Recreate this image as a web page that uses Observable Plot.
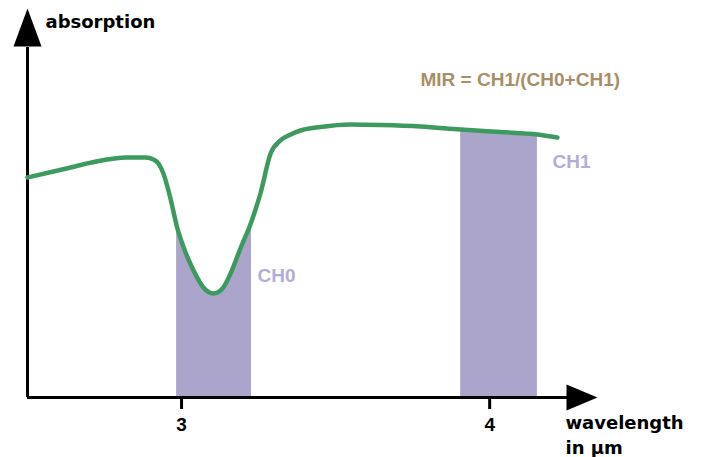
<!DOCTYPE html>
<html>
<head>
<meta charset="utf-8">
<script src="https://cdn.jsdelivr.net/npm/d3@7"></script>
<script src="https://cdn.jsdelivr.net/npm/@observablehq/plot@0.6"></script>
<style>
  html, body { margin: 0; padding: 0; background: #fff; }
  #chart { width: 702px; height: 457px; }
</style>
</head>
<body>
<div id="chart"></div>
<script>
// ---- data ----
const wavelength = [2.5, 2.623, 2.753, 2.818, 2.883, 2.909, 2.925, 2.941, 2.964, 2.984, 3.013, 3.039, 3.071, 3.104, 3.133, 3.159, 3.191, 3.227, 3.256, 3.289, 3.321, 3.354, 3.386, 3.451, 3.548, 3.646, 3.776, 3.906, 4.035, 4.155, 4.220];
const absorption = [56.56, 58.82, 61.10, 61.70, 61.70, 61.18, 60.15, 57.58, 51.16, 44.22, 37.28, 32.65, 28.28, 26.74, 28.02, 31.88, 38.30, 45.24, 52.44, 62.72, 66.07, 67.61, 68.64, 69.54, 70.18, 70.05, 69.67, 68.89, 68.25, 67.61, 66.84];
const bandNames = ["CH0", "CH1"];
const bandStart = [2.984, 3.906];
const bandEnd = [3.227, 4.155];
const tickValues = [3, 4];
const yAxisTitle = "absorption";
const xAxisTitle = ["wavelength", "in µm"];
const formula = "MIR = CH1/(CH0+CH1)";

// ---- derived tables ----
const curve = wavelength.map((w, i) => ({w, a: absorption[i]}));
const bands = bandNames.map((name, i) => ({
  name,
  pts: curve.filter(d => d.w >= bandStart[i] - 1e-9 && d.w <= bandEnd[i] + 1e-9)
}));

const green = "#3d9a5f";
const shade = "#aba5cc";
const shadeText = "#b2acd6";
const tan = "#a88e66";

const upArrow = {draw(ctx) { ctx.moveTo(0, 0); ctx.lineTo(14, 38); ctx.lineTo(-14, 38); ctx.closePath(); }};
const rightArrow = {draw(ctx) { ctx.moveTo(0, 0); ctx.lineTo(-31, -13); ctx.lineTo(-31, 13); ctx.closePath(); }};

const xMin = 2.5, xMax = 4.35, yMax = 100;

const chart = Plot.plot({
  width: 702,
  height: 457,
  marginLeft: 27,
  marginRight: 105,
  marginTop: 8,
  marginBottom: 60,
  x: {domain: [xMin, xMax]},
  y: {domain: [0, yMax], axis: null},
  style: {fontFamily: "'Liberation Sans', Arial, sans-serif", background: "#fff", color: "#000"},
  marks: [
    // shaded channels
    ...bands.map(b => Plot.areaY(b.pts, {x: "w", y: "a", fill: shade, curve: "monotone-x"})),
    // axes
    Plot.ruleX([xMin], {y1: 0, y2: 90, stroke: "#000", strokeWidth: 3}),
    Plot.ruleY([0], {x1: xMin, x2: 4.3, stroke: "#000", strokeWidth: 3}),
    Plot.dot([[xMin, yMax]], {x: d => d[0], y: d => d[1], symbol: upArrow, fill: "#000", stroke: null, r: 5}),
    Plot.dot([[xMax, 0]], {x: d => d[0], y: d => d[1], symbol: rightArrow, fill: "#000", stroke: null, r: 5}),
    Plot.axisX({ticks: tickValues, tickSize: 12, tickPadding: 8, strokeWidth: 3, tickFormat: d => String(d),
      fontSize: 19, fontWeight: "bold", label: null, stroke: "#000", fill: "#000"}),
    // curve
    Plot.line(curve, {x: "w", y: "a", stroke: green, strokeWidth: 4.5, curve: "monotone-x"}),
    // texts
    Plot.text([yAxisTitle], {x: 2.5584, y: 94.86, text: d => d, textAnchor: "start", lineAnchor: "bottom",
      fontFamily: "'DejaVu Sans', sans-serif", fontWeight: "bold", fontSize: 18, fill: "#000"}),
    Plot.text([xAxisTitle[0]], {x: 4.246, y: -7.97, text: d => d, textAnchor: "start", lineAnchor: "bottom",
      fontFamily: "'DejaVu Sans', sans-serif", fontWeight: "bold", fontSize: 18, fill: "#000"}),
    Plot.text([xAxisTitle[1]], {x: 4.246, y: -14.4, text: d => d, textAnchor: "start", lineAnchor: "bottom",
      fontFamily: "'DejaVu Sans', sans-serif", fontWeight: "bold", fontSize: 18, fill: "#000"}),
    Plot.text([formula], {x: 3.7755, y: 80.2, text: d => d, textAnchor: "start", lineAnchor: "bottom",
      fontWeight: "bold", fontSize: 19, fill: tan}),
    Plot.text([bandNames[0]], {x: 3.2465, y: 29.8, text: d => d, textAnchor: "start", lineAnchor: "bottom",
      fontWeight: "bold", fontSize: 19, fill: shadeText}),
    Plot.text([bandNames[1]], {x: 4.204, y: 59.1, text: d => d, textAnchor: "start", lineAnchor: "bottom",
      fontWeight: "bold", fontSize: 19, fill: shadeText})
  ]
});
document.getElementById("chart").appendChild(chart);
</script>
</body>
</html>
